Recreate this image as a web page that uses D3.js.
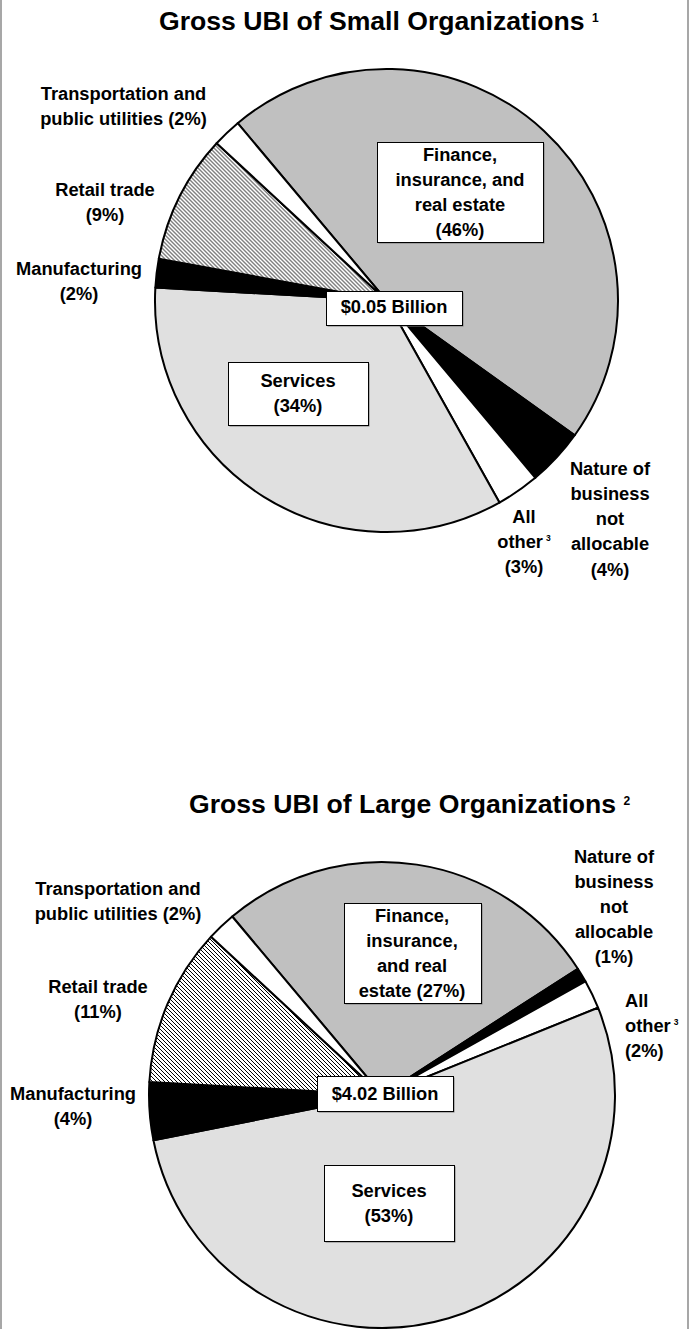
<!DOCTYPE html>
<html>
<head>
<meta charset="utf-8">
<script src="https://cdn.jsdelivr.net/npm/d3@7"></script>
<style>
  html, body { margin: 0; padding: 0; background: #fff; }
  svg { display: block; }
  text { font-family: "Liberation Sans", Arial, sans-serif; font-weight: bold; fill: #000; }
</style>
</head>
<body>
<svg id="chart" width="690" height="1329"></svg>
<script>
// Industry groups, in drawing order (clockwise)
const sectors = [
  "Finance, insurance, and real estate",
  "Nature of business not allocable",
  "All other",
  "Services",
  "Manufacturing",
  "Retail trade",
  "Transportation and public utilities"
];
// Percent of gross UBI by industry group
const smallShares = [46, 4, 3, 34, 2, 9, 2];
const largeShares = [27, 1, 2, 53, 4, 11, 2];
// Totals printed at the centre of each pie
const totals = ["$0.05 Billion", "$4.02 Billion"];
const titles = ["Gross UBI of Small Organizations", "Gross UBI of Large Organizations"];
const titleNotes = ["1", "2"];

const fills = ["#c0c0c0", "#000000", "#ffffff", "#e0e0e0", "#000000", "url(#hatch)", "#ffffff"];

const svg = d3.select("#chart");
const W = 690, H = 1329;
const font = 18.3;

// diagonal hatching for retail trade
const defs = svg.append("defs");
const pat = defs.append("pattern")
  .attr("id", "hatch").attr("patternUnits", "userSpaceOnUse")
  .attr("width", 4).attr("height", 4);
pat.append("rect").attr("width", 4).attr("height", 4).attr("fill", "#fff");
pat.append("path")
  .attr("d", "M-1,-1 L5,5 M-1,3 L1,5 M3,-1 L5,1")
  .attr("stroke", "#000").attr("stroke-width", 1);

// page frame sides
svg.append("line").attr("x1", 1).attr("x2", 1).attr("y1", 0).attr("y2", H)
  .attr("stroke", "#8a8a8a").attr("stroke-width", 1.5);
svg.append("line").attr("x1", 688).attr("x2", 688).attr("y1", 0).attr("y2", H)
  .attr("stroke", "#8a8a8a").attr("stroke-width", 1.5);

const startDeg = -40;
const pie = d3.pie().sort(null).value(d => d)
  .startAngle(startDeg * Math.PI / 180)
  .endAngle(startDeg * Math.PI / 180 + 2 * Math.PI);

// Layout of each panel: pie geometry, title, slice labels (keyed by sector index)
const panels = [
  {
    shares: smallShares, total: totals[0], title: titles[0], note: titleNotes[0],
    cx: 386.5, cy: 300.5, r: 231.5,
    titleX: 159, titleY: 30,
    totalBox: [326, 291, 136, 34], totalY: 313, totalX: 394,
    labels: [
      { i: 0, x: 460, ys: [161, 186, 211, 236], lines: ["Finance,", "insurance, and", "real estate", "({p})"], box: [377, 142, 166, 100] },
      { i: 1, x: 610, ys: [475, 500, 525, 550, 576], lines: ["Nature of", "business", "not", "allocable", "({p})"] },
      { i: 2, x: 524, ys: [523, 548, 573], lines: ["All", "other^3", "({p})"] },
      { i: 3, x: 298, ys: [387, 412], lines: ["Services", "({p})"], box: [228, 362, 140, 63] },
      { i: 4, x: 79, ys: [275, 300], lines: ["Manufacturing", "({p})"] },
      { i: 5, x: 105, ys: [196, 221], lines: ["Retail trade", "({p})"] },
      { i: 6, x: 123.5, ys: [100, 125], lines: ["Transportation and", "public utilities ({p})"] }
    ]
  },
  {
    shares: largeShares, total: totals[1], title: titles[1], note: titleNotes[1],
    cx: 382, cy: 1095, r: 233,
    titleX: 189, titleY: 813,
    totalBox: [317, 1076, 136, 35], totalY: 1100, totalX: 385,
    labels: [
      { i: 0, x: 412, ys: [922, 947, 972, 997], lines: ["Finance,", "insurance,", "and real", "estate ({p})"], box: [344, 903, 137, 100] },
      { i: 1, x: 614, ys: [863, 888, 913, 938, 963], lines: ["Nature of", "business", "not", "allocable", "({p})"] },
      { i: 2, x: 625, ys: [1007, 1032, 1057], lines: ["All", "other^3", "({p})"], anchor: "start" },
      { i: 3, x: 389, ys: [1197, 1222], lines: ["Services", "({p})"], box: [324, 1165, 130, 76] },
      { i: 4, x: 73, ys: [1100, 1125], lines: ["Manufacturing", "({p})"] },
      { i: 5, x: 98, ys: [993, 1018], lines: ["Retail trade", "({p})"] },
      { i: 6, x: 118, ys: [895, 920], lines: ["Transportation and", "public utilities ({p})"] }
    ]
  }
];

function drawBox(g, b) {
  g.append("rect").attr("x", b[0] + 1.5).attr("y", b[1] + 1.5)
    .attr("width", b[2]).attr("height", b[3]).attr("fill", "#7a7a7a");
  g.append("rect").attr("x", b[0] + 0.5).attr("y", b[1] + 0.5)
    .attr("width", b[2]).attr("height", b[3])
    .attr("fill", "#fff").attr("stroke", "#000").attr("stroke-width", 1);
}

function writeLine(g, x, y, str, anchor) {
  const t = g.append("text").attr("x", x).attr("y", y)
    .attr("text-anchor", anchor || "middle").attr("font-size", font);
  const parts = str.split("^");
  t.append("tspan").text(parts[0]);
  if (parts.length > 1) {
    t.append("tspan").text(" ").attr("font-size", font * 0.6);
    t.append("tspan").text(parts[1]).attr("font-size", 8.5).attr("dy", -7);
  }
}

panels.forEach(p => {
  const g = svg.append("g");

  // title with footnote marker
  const tt = g.append("text").attr("x", p.titleX).attr("y", p.titleY)
    .attr("font-size", 26.6);
  tt.append("tspan").text(p.title + " ");
  tt.append("tspan").text(p.note).attr("font-size", 12).attr("dy", -8);

  const arc = d3.arc().innerRadius(0).outerRadius(p.r);
  const arcs = pie(p.shares);

  const slices = g.append("g").attr("transform", `translate(${p.cx},${p.cy})`);
  slices.selectAll("path").data(arcs).join("path")
    .attr("d", arc)
    .attr("fill", (d, i) => fills[i])
    .attr("stroke", "#000")
    .attr("stroke-width", 2)
    .attr("stroke-linejoin", "round");

  // slice labels
  p.labels.forEach(l => {
    if (l.box) drawBox(g, l.box);
    const pct = p.shares[l.i] + "%";
    l.lines.forEach((s, k) => writeLine(g, l.x, l.ys[k], s.replace("{p}", pct), l.anchor));
  });

  // total at the centre
  drawBox(g, p.totalBox);
  g.append("text").attr("x", p.totalX).attr("y", p.totalY)
    .attr("text-anchor", "middle").attr("font-size", font).text(p.total);
});
</script>
</body>
</html>
